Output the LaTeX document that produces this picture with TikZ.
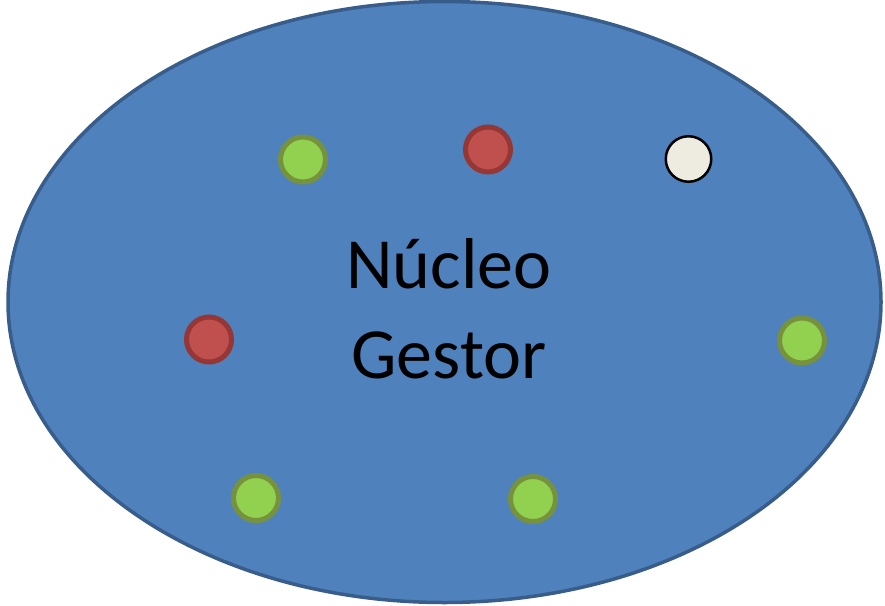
\documentclass[tikz,border=0pt]{standalone}
\usepackage{fontspec}
\setmainfont{Carlito}
\usetikzlibrary{shapes.geometric}

\definecolor{coreblue}{HTML}{4F81BD}
\definecolor{coreedge}{HTML}{385D8A}
\definecolor{leafgreen}{HTML}{92D050}
\definecolor{leafedge}{HTML}{76923C}
\definecolor{hotred}{HTML}{C0504D}
\definecolor{hotedge}{HTML}{953735}
\definecolor{paper}{HTML}{EEECE1}

\begin{document}
\begin{tikzpicture}[x=1pt,y=-1pt,
	member/.style={circle, inner sep=0pt, minimum size=45pt, line width=5pt},
	greenmember/.style={member, fill=leafgreen, draw=leafedge},
	redmember/.style={member, fill=hotred, draw=hotedge},
	freemember/.style={circle, inner sep=0pt, minimum size=45.5pt, line width=2.5pt, fill=paper, draw=black}]
	\useasboundingbox (0,0) rectangle (885,605);
	\node[ellipse, inner sep=0pt, minimum width=873pt, minimum height=601pt,
		fill=coreblue, draw=coreedge, line width=3.5pt] (core) at (444.5,302) {};
	\node[anchor=base, align=center, font=\fontsize{72}{90}\selectfont] (name) at (449,378) {Núcleo\\Gestor};
	% members of the core
	\node[greenmember] (g1) at (303,159.5) {};
	\node[redmember] (r1) at (488,149.5) {};
	\node[freemember] (w1) at (688.5,159) {};
	\node[redmember] (r2) at (209,339.5) {};
	\node[greenmember] (g2) at (802,340.5) {};
	\node[greenmember] (g3) at (256,498) {};
	\node[greenmember] (g4) at (533,499) {};
\end{tikzpicture}
\end{document}
